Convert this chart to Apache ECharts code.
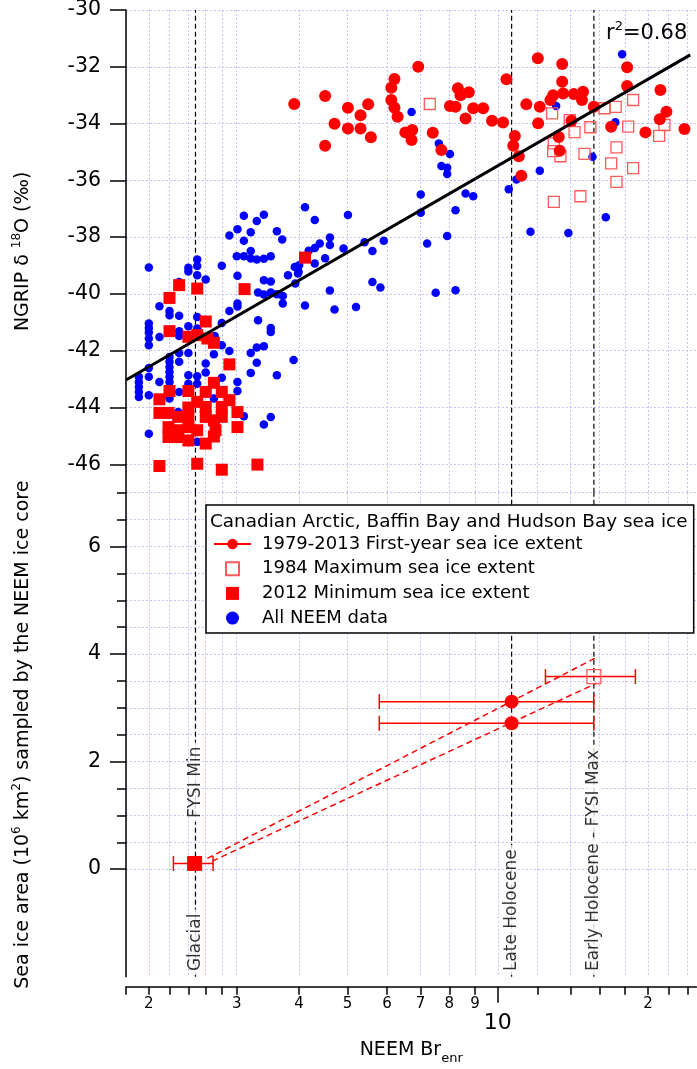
<!DOCTYPE html>
<html><head><meta charset="utf-8">
<script src="https://cdn.jsdelivr.net/npm/echarts@6/dist/echarts.min.js"></script>
<style>html,body{margin:0;padding:0;background:#fff}#c{width:697px;height:1069px}</style>
</head><body><div id="c"></div>
<script>
// ---------------- data ----------------
const nameFirstYear = '1979-2013 First-year sea ice extent';
const nameMax1984 = '1984 Maximum sea ice extent';
const nameMin2012 = '2012 Minimum sea ice extent';
const nameNEEM = 'All NEEM data';
const legendTitle = 'Canadian Arctic, Baffin Bay and Hudson Bay sea ice';

const xTicks = [1.8, 2, 2.2, 2.4, 2.6, 2.8, 3, 4, 5, 6, 7, 8, 9, 10, 12, 14, 16, 18, 20, 22, 24];
const xLabelValues = [2, 3, 4, 5, 6, 7, 8, 9, 20];
const xDecade = [10];
const yTopTicks = [-46, -44, -42, -40, -38, -36, -34, -32, -30];
const yBotMajor = [0, 2, 4, 6];
const yBotMinor = [0, 0.5, 1, 1.5, 2, 2.5, 3, 3.5, 4, 4.5, 5, 5.5, 6, 6.5, 7];

const neemData = [
[3.10,-37.25],[3.40,-37.21],[3.29,-37.43],[3.01,-37.72],[2.90,-37.94],[3.20,-37.83],[3.10,-38.13],[3.61,-37.79],
[3.70,-38.08],[3.00,-38.67],[3.10,-38.67],[3.20,-38.49],[3.20,-38.75],[3.29,-38.79],[3.40,-38.76],[3.51,-38.67],
[2.00,-39.07],[2.50,-38.79],[2.50,-39.02],[2.40,-39.08],[2.40,-39.21],[2.50,-39.34],[2.80,-39.01],[2.60,-39.49],
[2.30,-39.58],[3.01,-39.36],[3.40,-39.52],[3.51,-39.56],[3.80,-39.34],[3.92,-39.05],[3.99,-39.22],[3.31,-39.95],
[3.40,-40.02],[3.51,-39.95],[3.61,-40.01],[3.71,-40.07],[3.71,-40.34],[3.01,-40.34],[3.01,-40.44],[2.90,-40.60],
[2.10,-40.43],[2.20,-40.60],[2.20,-40.75],[2.30,-40.77],[2.50,-40.81],[2.40,-41.14],[2.50,-41.22],[2.80,-41.02],
[3.31,-40.93],[3.51,-41.20],[3.51,-41.34],[2.00,-41.04],[2.00,-41.20],[2.00,-41.36],[2.10,-41.52],[2.30,-41.31],
[2.30,-41.48],[2.71,-41.48],[2.00,-41.57],[2.80,-41.81],[2.90,-42.01],[3.20,-42.08],[3.29,-41.89],[3.40,-41.84],
[3.29,-42.42],[3.90,-42.33],[2.40,-42.08],[2.30,-42.08],[2.20,-42.22],[2.20,-42.39],[2.30,-42.39],[2.20,-42.57],
[2.20,-42.75],[2.20,-42.92],[2.20,-43.10],[2.20,-43.28],[2.00,-42.61],[2.00,-42.92],[1.91,-42.92],[1.91,-43.10],
[1.91,-43.28],[1.91,-43.45],[1.91,-43.63],[2.00,-43.57],[2.10,-43.10],[2.70,-42.12],[2.60,-42.45],[2.60,-42.77],
[2.50,-42.90],[2.40,-42.86],[2.40,-43.16],[2.50,-43.16],[2.40,-43.45],[2.30,-43.45],[2.20,-43.68],[2.80,-42.95],
[3.01,-43.10],[3.01,-43.42],[3.20,-42.78],[3.61,-42.86],[2.70,-43.68],[3.10,-44.31],[3.51,-44.33],[3.40,-44.60],
[2.00,-44.92],[2.50,-45.21],[2.29,-44.16],[2.00,-41.81],
[4.11,-36.95],[4.30,-37.40],[5.01,-37.22],[7.01,-36.50],[7.01,-37.14],[8.62,-36.46],[8.93,-36.56],[8.23,-37.05],
[4.61,-38.01],[4.40,-38.22],[4.61,-38.28],[4.30,-38.38],[4.18,-38.48],[4.91,-38.40],[5.41,-38.18],[5.91,-38.13],
[5.61,-38.49],[7.22,-38.22],[7.92,-37.96],[4.51,-38.74],[4.30,-38.93],[4.00,-38.99],[3.98,-39.28],[3.93,-39.63],
[5.61,-39.58],[5.82,-39.77],[4.61,-39.88],[7.51,-39.96],[8.23,-39.87],[4.11,-40.41],[4.71,-40.55],[5.20,-40.46],
[6.72,-33.59],[7.62,-34.70],[8.02,-35.07],[7.71,-35.49],[7.92,-35.56],[7.92,-35.78],[10.52,-36.31],[10.90,-35.97],
[12.14,-35.66],[11.63,-37.81],[13.85,-37.85],[16.46,-37.30],[17.75,-31.56],[13.09,-33.38],[17.20,-33.95],[15.48,-35.17]
];

const min2012Data = [
[2.30,-39.69],[2.20,-40.14],[2.50,-39.81],[3.11,-39.83],[2.60,-40.97],[2.20,-41.31],[2.40,-41.51],[2.50,-41.45],
[2.62,-41.57],[2.70,-41.72],[2.90,-42.48],[2.70,-43.13],[2.80,-43.45],[2.60,-43.45],[2.40,-43.42],[2.20,-43.42],
[2.10,-43.71],[2.10,-44.19],[2.19,-44.19],[2.29,-44.33],[2.40,-44.00],[2.50,-43.80],[2.60,-43.98],[2.80,-43.98],
[3.01,-44.16],[2.60,-44.33],[2.70,-44.45],[2.80,-44.33],[2.19,-44.69],[2.29,-44.80],[2.19,-45.04],[2.29,-45.04],
[2.40,-44.69],[2.50,-44.80],[2.60,-45.27],[2.72,-44.80],[3.01,-44.69],[2.10,-46.06],[2.50,-45.98],[2.80,-46.19],
[3.30,-46.01],[4.11,-38.72],[2.40,-44.33],[2.70,-45.02],[2.90,-43.74],[2.40,-45.16]
];

const firstYearData = [
[3.91,-33.31],[4.51,-33.03],[5.01,-33.44],[5.50,-33.32],[5.31,-33.71],[4.71,-34.01],[5.01,-34.17],[5.31,-34.17],
[5.57,-34.48],[4.51,-34.78],[6.21,-32.43],[6.12,-32.74],[6.12,-33.17],[6.21,-33.44],[6.30,-33.76],[6.53,-34.31],
[6.93,-32.00],[6.74,-34.23],[6.72,-34.58],[7.41,-34.32],[7.71,-34.93],[8.32,-32.76],[8.42,-33.00],[8.75,-32.90],
[8.02,-33.38],[8.23,-33.41],[8.62,-33.82],[8.93,-33.46],[9.35,-33.46],[9.74,-33.90],[10.25,-33.96],[10.41,-32.44],
[10.82,-34.44],[10.74,-34.78],[11.02,-35.15],[11.15,-35.84],[11.41,-33.32],[12.03,-31.70],[12.05,-33.99],[12.14,-33.41],
[12.75,-33.17],[12.91,-33.00],[13.46,-31.90],[13.46,-32.53],[13.52,-32.94],[14.20,-32.96],[14.82,-32.88],[14.75,-33.17],
[14.05,-33.90],[13.25,-34.47],[13.31,-34.96],[15.57,-33.41],[16.87,-34.11],[18.16,-32.02],[18.16,-32.68],[21.18,-32.82],
[21.77,-33.58],[21.11,-33.85],[19.76,-34.31],[23.66,-34.19]
];

const max1984Data = [
[7.31,-33.31],[12.85,-33.64],[13.94,-33.88],[14.25,-34.30],[15.33,-34.13],[12.91,-34.97],[13.35,-35.15],[14.92,-35.07],
[12.95,-34.70],[16.36,-33.46],[17.23,-33.41],[18.67,-33.17],[18.25,-34.11],[17.29,-34.84],[16.87,-35.40],[17.29,-36.05],
[18.67,-35.57],[14.64,-36.56],[12.95,-36.76],[21.57,-34.05],[21.05,-34.43]
];

const regressionLine = [[1.8, -43.03], [24.3, -31.58]];

// lower panel: sea ice area sampled (10^6 km^2)
const firstYearArea = [[10.66, 3.115], [10.66, 2.713]];
const max1984Area = [[15.58, 3.58]];
const min2012Area = [[2.47, 0.106]];
// [x, y, xLow, xHigh]
const areaErrorBars = [[10.66, 3.115, 5.79, 15.57], [10.66, 2.713, 5.79, 15.57], [15.58, 3.58, 12.46, 18.87], [2.47, 0.106, 2.24, 2.69]];
const dashedLinkUpper = [[2.62, 0.20], [15.8, 3.94]];
const dashedLinkLower = [[2.68, 0.15], [15.8, 3.46]];

const periodX = [2.48, 10.66, 15.58];
const periodLabels = [
  {value: [2.48, 0.875], name: 'FYSI Min'},
  {value: [2.48, -1.97], name: 'Glacial'},
  {value: [10.66, -1.97], name: 'Late Holocene'},
  {value: [15.58, -1.97], name: 'Early Holocene - FYSI Max'}
];
const r2Text = '0.68';

// ---------------- chart ----------------
const FONT = 'DejaVu Sans';
const RED = '#ff0000', BLUE = '#0000ff', PINK = '#ff5a5a';
const TOP = {min: -47, max: -30}, BOT = {min: -2, max: 7}, XR = {min: 1.8, max: 25};
const gridLine = {show: true, lineStyle: {color: '#c2c2ff', width: 1, type: [2, 2]}};
const axLine = {show: true, onZero: false, lineStyle: {color: '#000', width: 1.5}};
const tickStyle = {color: '#000', width: 1.5};
const SQUARE_ICON = 'path://M0,0H10V10H0Z';

const chart = echarts.init(document.getElementById('c'));

const markerSeries = [];
periodX.forEach(x => {
  markerSeries.push({type: 'line', xAxisIndex: 0, yAxisIndex: 0, data: [[x, TOP.min], [x, TOP.max]],
    symbol: 'none', silent: true, z: 1, lineStyle: {color: '#000', width: 1.2, type: [5, 3]}});
  markerSeries.push({type: 'line', xAxisIndex: 1, yAxisIndex: 1, data: [[x, BOT.min], [x, BOT.max]],
    symbol: 'none', silent: true, z: 1, lineStyle: {color: '#000', width: 1.2, type: [5, 3]}});
});

const option = {
  animation: false,
  backgroundColor: '#fff',
  textStyle: {fontFamily: FONT},
  grid: [
    {left: 126, top: 10, width: 570.4, height: 482.7, outerBoundsMode: 'none', containLabel: false},
    {left: 126, top: 492.7, width: 570.4, height: 484, outerBoundsMode: 'none', containLabel: false}
  ],
  xAxis: [
    {type: 'log', logBase: 10, gridIndex: 0, min: XR.min, max: XR.max,
     axisLine: {show: false, onZero: false}, axisTick: {show: false, customValues: xTicks},
     axisLabel: {show: false}, splitLine: gridLine},
    {type: 'log', logBase: 10, gridIndex: 1, min: XR.min, max: XR.max, position: 'bottom', offset: 10,
     axisLine: axLine,
     axisTick: {show: true, inside: false, length: 8, customValues: xTicks, lineStyle: tickStyle},
     axisLabel: {show: true, customValues: xLabelValues, color: '#000', fontSize: 15, fontFamily: FONT, margin: 10,
       formatter: v => String(v >= 20 ? Math.round(v / 10) : Math.round(v))},
     splitLine: gridLine,
     name: '{t|NEEM Br}{b|enr}', nameLocation: 'middle', nameGap: 54, nameMoveOverlap: false,
     nameTextStyle: {color: '#000', fontFamily: FONT, rich: {
       t: {fontSize: 19, fontFamily: FONT, lineHeight: 22, verticalAlign: 'top', color: '#000'},
       b: {fontSize: 13, fontFamily: FONT, lineHeight: 13, padding: [11, 0, 0, 0], verticalAlign: 'top', color: '#000'}}}},
    {type: 'log', logBase: 10, gridIndex: 1, min: XR.min, max: XR.max, position: 'bottom', offset: 10,
     axisLine: {show: false, onZero: false},
     axisTick: {show: true, inside: false, length: 16, customValues: xDecade, lineStyle: tickStyle},
     axisLabel: {show: true, customValues: xDecade, color: '#000', fontSize: 22, fontFamily: FONT, margin: 26},
     splitLine: {show: false}}
  ],
  yAxis: [
    {type: 'value', gridIndex: 0, min: TOP.min, max: TOP.max, position: 'left',
     axisLine: axLine,
     axisTick: {show: true, length: 16, customValues: yTopTicks, lineStyle: tickStyle},
     axisLabel: {show: true, customValues: yTopTicks, color: '#000', fontSize: 20.5, fontFamily: FONT, margin: 25},
     splitLine: gridLine,
     name: '{t|NGRIP δ }{s|18}{t|O (‰)}', nameLocation: 'middle', nameRotate: 90, nameGap: 93, nameMoveOverlap: false,
     nameTextStyle: {color: '#000', fontFamily: FONT, rich: {
       t: {fontSize: 19, fontFamily: FONT, lineHeight: 22, verticalAlign: 'bottom', color: '#000'},
       s: {fontSize: 12, fontFamily: FONT, lineHeight: 12, verticalAlign: 'top', color: '#000'}}}},
    {type: 'value', gridIndex: 1, min: BOT.min, max: BOT.max, position: 'left',
     axisLine: axLine,
     axisTick: {show: true, length: 16, customValues: yBotMajor, lineStyle: tickStyle},
     axisLabel: {show: true, customValues: yBotMajor, color: '#000', fontSize: 20.5, fontFamily: FONT, margin: 25},
     splitLine: {show: false},
     name: '{t|Sea ice area (10}{s|6}{t| km}{s|2}{t|) sampled by the NEEM ice core}', nameLocation: 'middle',
     nameRotate: 90, nameGap: 93, nameMoveOverlap: false,
     nameTextStyle: {color: '#000', fontFamily: FONT, rich: {
       t: {fontSize: 19, fontFamily: FONT, lineHeight: 22, verticalAlign: 'bottom', color: '#000'},
       s: {fontSize: 12, fontFamily: FONT, lineHeight: 12, verticalAlign: 'top', color: '#000'}}}},
    {type: 'value', gridIndex: 1, min: BOT.min, max: BOT.max, position: 'left',
     axisLine: {show: false, onZero: false},
     axisTick: {show: true, length: 9, customValues: yBotMinor, lineStyle: tickStyle},
     axisLabel: {show: false}, splitLine: gridLine}
  ],
  legend: {
    orient: 'vertical', left: 206, top: 505,
    data: [{name: nameFirstYear}, {name: nameMax1984, icon: SQUARE_ICON}, {name: nameMin2012, icon: SQUARE_ICON}, {name: nameNEEM, icon: 'circle'}],
    itemWidth: 37, itemHeight: 13, itemGap: 4.7, symbolKeepAspect: true,
    padding: [29, 111, 5, 7],
    borderColor: '#000', borderWidth: 1.5, backgroundColor: '#fff', borderRadius: 0,
    selectedMode: false, z: 10,
    textStyle: {fontFamily: FONT, fontSize: 18, color: '#000', lineHeight: 20, padding: [0, 0, 0, 6]}
  },
  graphic: [
    {type: 'text', x: 210, y: 522, z: 100, silent: true,
     style: {text: legendTitle, fontFamily: FONT, fontSize: 18.4, fill: '#000', verticalAlign: 'middle'}},
    {type: 'text', x: 606, y: 32, z: 100, silent: true,
     style: {text: '{a|r}{s|2}{a|=' + r2Text + '}', verticalAlign: 'middle', fill: '#000',
       rich: {a: {fontSize: 21, fontFamily: FONT, lineHeight: 24, verticalAlign: 'bottom', fill: '#000'},
              s: {fontSize: 13, fontFamily: FONT, lineHeight: 13, verticalAlign: 'top', fill: '#000'}}}}
  ],
  series: [
    {name: nameFirstYear, type: 'line', xAxisIndex: 1, yAxisIndex: 1, data: [firstYearArea[0]],
     symbol: 'circle', symbolSize: 14, showSymbol: true, itemStyle: {color: RED}, lineStyle: {color: RED, width: 1.5}, z: 6},
    {name: nameFirstYear, type: 'line', xAxisIndex: 1, yAxisIndex: 1, data: [firstYearArea[1]],
     symbol: 'circle', symbolSize: 14, showSymbol: true, itemStyle: {color: RED}, lineStyle: {color: RED, width: 1.5}, z: 6},
    {name: nameNEEM, type: 'scatter', xAxisIndex: 0, yAxisIndex: 0, data: neemData,
     symbol: 'circle', symbolSize: 8.5, itemStyle: {color: BLUE, opacity: 1}, z: 2},
    {name: nameMax1984, type: 'scatter', xAxisIndex: 0, yAxisIndex: 0, data: max1984Data,
     symbol: 'rect', symbolSize: 11, itemStyle: {color: 'rgba(255,255,255,0)', borderColor: PINK, borderWidth: 1.3, opacity: 1}, z: 3},
    {name: nameMax1984, type: 'scatter', xAxisIndex: 1, yAxisIndex: 1, data: max1984Area,
     symbol: 'rect', symbolSize: 14, itemStyle: {color: 'rgba(255,255,255,0)', borderColor: PINK, borderWidth: 1.3, opacity: 1}, z: 6},
    {name: nameMin2012, type: 'scatter', xAxisIndex: 0, yAxisIndex: 0, data: min2012Data,
     symbol: 'rect', symbolSize: 12, itemStyle: {color: RED, opacity: 1}, z: 4},
    {name: nameMin2012, type: 'scatter', xAxisIndex: 1, yAxisIndex: 1, data: min2012Area,
     symbol: 'rect', symbolSize: 15, itemStyle: {color: RED, opacity: 1}, z: 6},
    {name: nameFirstYear, type: 'scatter', xAxisIndex: 0, yAxisIndex: 0, data: firstYearData,
     symbol: 'circle', symbolSize: 12, itemStyle: {color: RED, opacity: 1}, z: 5},
    {type: 'line', xAxisIndex: 0, yAxisIndex: 0, data: regressionLine, symbol: 'none', silent: true,
     lineStyle: {color: '#000', width: 3}, z: 7},
    {type: 'line', xAxisIndex: 1, yAxisIndex: 1, data: dashedLinkUpper, symbol: 'none', silent: true,
     lineStyle: {color: RED, width: 1.5, type: [6, 4]}, z: 3},
    {type: 'line', xAxisIndex: 1, yAxisIndex: 1, data: dashedLinkLower, symbol: 'none', silent: true,
     lineStyle: {color: RED, width: 1.5, type: [6, 4]}, z: 3},
    {type: 'custom', xAxisIndex: 1, yAxisIndex: 1, data: areaErrorBars, encode: {x: 0, y: 1}, silent: true, z: 4,
     renderItem: (params, api) => {
       const y = api.value(1);
       const p1 = api.coord([api.value(2), y]);
       const p2 = api.coord([api.value(3), y]);
       const cap = 7.5;
       const st = {stroke: RED, lineWidth: 1.5};
       return {type: 'group', children: [
         {type: 'line', shape: {x1: p1[0], y1: p1[1], x2: p2[0], y2: p2[1]}, style: st},
         {type: 'line', shape: {x1: p1[0], y1: p1[1] - cap, x2: p1[0], y2: p1[1] + cap}, style: st},
         {type: 'line', shape: {x1: p2[0], y1: p2[1] - cap, x2: p2[0], y2: p2[1] + cap}, style: st}
       ]};
     }},
    {type: 'scatter', xAxisIndex: 1, yAxisIndex: 1, data: periodLabels, symbolSize: 1, silent: true, z: 8,
     itemStyle: {color: 'rgba(0,0,0,0)'},
     label: {show: true, position: 'inside', rotate: 90, align: 'left', verticalAlign: 'middle', formatter: '{b}',
       fontSize: 17, fontFamily: FONT, color: '#000', backgroundColor: '#fff', padding: [0, 4], lineHeight: 13}}
  ].concat(markerSeries)
};
chart.setOption(option);
</script>
</body></html>
